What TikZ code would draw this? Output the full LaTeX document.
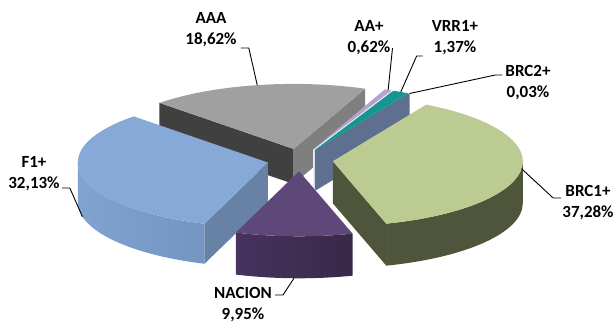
\documentclass[tikz,border=0pt]{standalone}
\usepackage{fontspec}
\setmainfont{Carlito}
\usetikzlibrary{calc}
\definecolor{f1top}{HTML}{86A9D7}
\definecolor{f1face}{HTML}{6882A6}
\definecolor{f1wallL}{HTML}{80A3D1}
\definecolor{f1wallR}{HTML}{6E8EBA}
\definecolor{aaatop}{HTML}{A0A0A0}
\definecolor{aaadark}{HTML}{404040}
\definecolor{aaamid}{HTML}{7F7F7F}
\definecolor{nactop}{HTML}{5E4879}
\definecolor{nacwallL}{HTML}{46335E}
\definecolor{nacwallR}{HTML}{392849}
\definecolor{bonetop}{HTML}{BBCB92}
\definecolor{bonedark}{HTML}{4F553A}
\definecolor{bonelight}{HTML}{7A8560}
\definecolor{btwo}{HTML}{5E6F8F}
\definecolor{vrrc}{HTML}{17968F}
\definecolor{aapc}{HTML}{B4A3D1}
\definecolor{aapface}{HTML}{EEEAF4}
\pgfdeclarehorizontalshading{bonewall}{100bp}{color(0bp)=(bonelight); color(25bp)=(bonelight); color(40bp)=(bonedark); color(75bp)=(bonedark); color(100bp)=(bonedark)}
\newcommand\ptop[4]{\fill[#4] (#1) -- ++(#2:190pt and 65pt) arc[start angle=#2,end angle=#3,x radius=190pt,y radius=65pt] -- cycle;}
\newcommand\pface[4]{\fill[#4] (#1) -- ++(#2:190pt and 65pt) -- ++(0,-#3) -- ++(#2+180:190pt and 65pt) -- cycle;}
\newcommand\pwall[5]{\shade[#5] (#1) ++(#2:190pt and 65pt) arc[start angle=#2,end angle=#3,x radius=190pt,y radius=65pt] -- ++(0,-#4) arc[start angle=#3,end angle=#2,x radius=190pt,y radius=65pt] -- cycle;}
\begin{document}
\begin{tikzpicture}[x=1pt,y=1pt,
  lbl/.style={font=\fontsize{17}{21}\selectfont\bfseries, align=center, inner sep=0pt, text=black},
  leader/.style={draw=black, line width=0.9pt}]
\useasboundingbox (0,0) rectangle (616,325);
\fill[white] (0,0) rectangle (616,325);
\coordinate (C) at (300,165);
\coordinate (pNAC) at ($(C)+(-91.56:33pt and 11.29pt)$);
\coordinate (pBRC1) at ($(C)+(-6.545:33pt and 11.29pt)$);
\coordinate (pBRC2) at ($(C)+(60.615:33pt and 11.29pt)$);
\coordinate (pVRR) at ($(C)+(63.135:33pt and 11.29pt)$);
\coordinate (pAAp) at ($(C)+(66.715:33pt and 11.29pt)$);
\coordinate (pAAA) at ($(C)+(101.345:33pt and 11.29pt)$);
\coordinate (pF1) at ($(C)+(192.695:33pt and 11.29pt)$);
% AAA
\pface{pAAA}{134.86}{35}{aaadark}
\pface{pAAA}{67.83}{35}{aaamid}
\ptop{pAAA}{67.83}{134.86}{aaatop}
% AA+
\pface{pAAp}{65.60}{40}{aapface}
\ptop{pAAp}{65.60}{67.83}{aapc}
% VRR1+
\pface{pVRR}{60.67}{40}{vrrc}
\ptop{pVRR}{60.67}{65.60}{vrrc}
% BRC2+
\pface{pBRC2}{60.56}{40}{btwo}
\ptop{pBRC2}{60.56}{60.67}{btwo}
% F1+
\pface{pF1}{250.53}{40}{f1face}
\pwall{pF1}{180}{250.53}{40}{left color=f1wallL, right color=f1wallR}
\ptop{pF1}{134.86}{250.53}{f1top}
% BRC1+
\pface{pBRC1}{-73.65}{42}{bonedark}
\pwall{pBRC1}{-73.65}{0}{42}{shading=bonewall}
\ptop{pBRC1}{-73.65}{60.56}{bonetop}
% NACION
\pwall{pNAC}{-109.47}{-73.65}{42}{left color=nacwallL, right color=nacwallR}
\ptop{pNAC}{-109.47}{-73.65}{nactop}
% leader end points
\coordinate (eAAA) at ($(pAAA)+(101:190pt and 65pt)$);
\coordinate (eAAp) at ($(pAAp)+(66.715:190pt and 65pt)$);
\coordinate (eVRR) at ($(pVRR)+(63.135:190pt and 65pt)$);
\coordinate (eBRC2) at ($(pBRC2)+(60.615:190pt and 65pt)$);
\coordinate (eBRC1) at ($(pBRC1)+(-6.545:190pt and 65pt)$);
\coordinate (eF1) at ($(pF1)+(192.695:190pt and 65pt)+(0,-40)$);
\coordinate (eNAC) at ($(pNAC)+(-91.56:190pt and 65pt)+(0,-42)$);
% labels
\node[lbl] (lAAA) at (211,295) {AAA\\18,62\%};
\node[lbl] (lAAp) at (369,287) {AA+\\0,62\%};
\node[lbl] (lVRR) at (455,287) {VRR1+\\1,37\%};
\node[lbl] (lBRC2) at (528,242.5) {BRC2+\\0,03\%};
\node[lbl] (lBRC1) at (588,122) {BRC1+\\37,28\%};
\node[lbl] (lF1) at (34,151) {F1+\\32,13\%};
\node[lbl] (lNAC) at (243,20) {NACION\\9,95\%};
% leaders
\draw[leader] ($(lAAA.east)+(4,-18)$) -- ++(8,0) -- (eAAA);
\draw[leader] ($(lAAp.east)+(2,-10)$) -- (eAAp);
\draw[leader] ($(lVRR.west)+(-9,-18)$) -- ++(-6,0) -- (eVRR);
\draw[leader] ($(lBRC2.west)+(-3,7.5)$) -- ++(-7,0) -- (eBRC2);
\draw[leader] ($(lBRC1.west)+(-1,5)$) -- ++(-8,0) -- (eBRC1);
\draw[leader] ($(lF1.east)+(2,-14)$) -- ++(8,0) -- (eF1);
\draw[leader] ($(lNAC.east)+(3,10)$) -- ++(8,0) -- (eNAC);
\end{tikzpicture}
\end{document}
